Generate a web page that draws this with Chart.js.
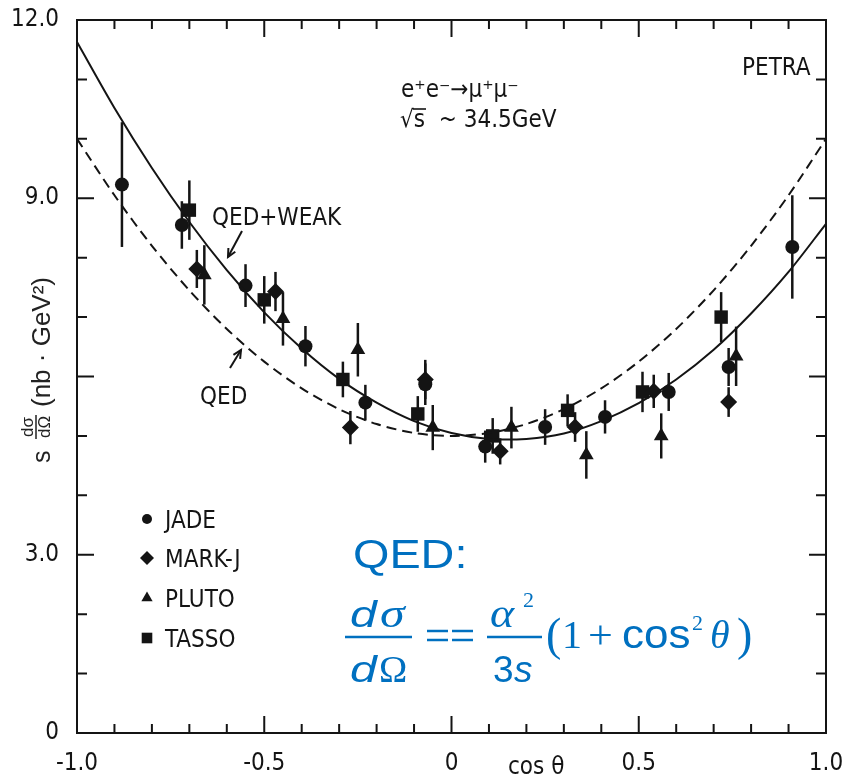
<!DOCTYPE html>
<html>
<head>
<meta charset="utf-8">
<script src="https://cdn.jsdelivr.net/npm/chart.js@4.4.0/dist/chart.umd.min.js"></script>
<style>
html, body { margin: 0; padding: 0; background: #fff; }
</style>
</head>
<body>
<canvas id="grafico-petra" width="864" height="779"></canvas>
<script>
// theory curves at steps of 0.1 in cos(theta)
const cosGrid = [-1.0, -0.9, -0.8, -0.7, -0.6, -0.5, -0.4, -0.3, -0.2, -0.1, 0.0,
                 0.1, 0.2, 0.3, 0.4, 0.5, 0.6, 0.7, 0.8, 0.9, 1.0];
const qedWeak = [11.63, 10.52, 9.51, 8.60, 7.79, 7.08, 6.47, 5.96, 5.56, 5.25, 5.05,
                 4.95, 4.95, 5.04, 5.25, 5.55, 5.95, 6.45, 7.06, 7.76, 8.57];
const qedOnly = [10.0, 9.05, 8.2, 7.45, 6.8, 6.25, 5.8, 5.45, 5.2, 5.05, 5.0,
                 5.05, 5.2, 5.45, 5.8, 6.25, 6.8, 7.45, 8.2, 9.05, 10.0];

// measurements (value and half error bar)
const jadeX   = [-0.88, -0.72, -0.55, -0.39, -0.23, -0.07, 0.09, 0.25, 0.41, 0.58, 0.74, 0.91];
const jadeY   = [9.23, 8.55, 7.53, 6.51, 5.56, 5.87, 4.82, 5.15, 5.32, 5.74, 6.16, 8.18];
const jadeErr = [1.05, 0.40, 0.36, 0.34, 0.30, 0.35, 0.27, 0.30, 0.28, 0.32, 0.32, 0.87];

const markjX   = [-0.68, -0.47, -0.27, -0.07, 0.13, 0.33, 0.54, 0.74];
const markjY   = [7.81, 7.43, 5.14, 5.95, 4.74, 5.15, 5.75, 5.57];
const markjErr = [0.32, 0.33, 0.28, 0.33, 0.22, 0.25, 0.28, 0.25];

const plutoX   = [-0.66, -0.45, -0.25, -0.05, 0.16, 0.36, 0.56, 0.76];
const plutoY   = [7.71, 6.97, 6.45, 5.14, 5.14, 4.68, 5.00, 6.34];
const plutoErr = [0.50, 0.45, 0.45, 0.38, 0.35, 0.40, 0.38, 0.50];

const tassoX   = [-0.70, -0.50, -0.29, -0.09, 0.11, 0.31, 0.51, 0.72];
const tassoY   = [8.80, 7.29, 5.95, 5.37, 5.00, 5.43, 5.74, 7.00];
const tassoErr = [0.50, 0.40, 0.30, 0.30, 0.30, 0.27, 0.34, 0.42];

const xTicks = [-1, -0.5, 0, 0.5, 1];
const xTickLabels = ['-1.0', '-0.5', '0', '0.5', '1.0'];
const yTicks = [0, 3, 6, 9, 12];
const yTickLabels = ['0', '3.0', '', '9.0', '12.0'];

const INK = '#141414';
const BLUE = '#0070c0';
const labelFont = '"DejaVu Sans Condensed", "DejaVu Sans", sans-serif';

function pontos(xs, ys, errs) {
    return xs.map(function(x, i) { return { x: x, y: ys[i], err: errs[i] }; });
}

const experimentos = [
    { label: 'JADE',   style: 'circle',   r: 7,   legR: 5,   data: pontos(jadeX, jadeY, jadeErr) },
    { label: 'MARK-J', style: 'rectRot',  r: 8.5, legR: 7,   data: pontos(markjX, markjY, markjErr) },
    { label: 'PLUTO',  style: 'triangle', r: 8.5, legR: 6.5, data: pontos(plutoX, plutoY, plutoErr) },
    { label: 'TASSO',  style: 'rect',     r: 9.5, legR: 7.5, data: pontos(tassoX, tassoY, tassoErr) }
];

// draw text with a horizontal stretch, at screen position
function texto(ctx, t, x, y, font, sx) {
    ctx.save();
    ctx.translate(x, y);
    ctx.scale(sx || 1, 1);
    ctx.font = font;
    ctx.fillText(t, 0, 0);
    ctx.restore();
}

function linha(ctx, x1, y1, x2, y2) {
    ctx.beginPath();
    ctx.moveTo(x1, y1);
    ctx.lineTo(x2, y2);
    ctx.stroke();
}

function seta(ctx, x1, y1, x2, y2) {
    linha(ctx, x1, y1, x2, y2);
    const ang = Math.atan2(y2 - y1, x2 - x1);
    const h = 9;
    ctx.beginPath();
    ctx.moveTo(x2 - h * Math.cos(ang - 0.45), y2 - h * Math.sin(ang - 0.45));
    ctx.lineTo(x2, y2);
    ctx.lineTo(x2 - h * Math.cos(ang + 0.45), y2 - h * Math.sin(ang + 0.45));
    ctx.stroke();
}

const decoracao = {
    id: 'decoracao',
    beforeDatasetsDraw(chart) {
        // error bars
        const ctx = chart.ctx, x = chart.scales.x, y = chart.scales.y;
        ctx.save();
        ctx.strokeStyle = INK;
        ctx.lineWidth = 2.5;
        experimentos.forEach(function(e) {
            e.data.forEach(function(p) {
                const px = x.getPixelForValue(p.x);
                linha(ctx, px, y.getPixelForValue(p.y - p.err), px, y.getPixelForValue(p.y + p.err));
            });
        });
        ctx.restore();
    },
    afterDraw(chart) {
        const ctx = chart.ctx, a = chart.chartArea;
        const x = chart.scales.x, y = chart.scales.y;
        ctx.save();
        ctx.strokeStyle = INK;
        ctx.fillStyle = INK;
        ctx.lineWidth = 2;
        ctx.strokeRect(a.left, a.top, a.right - a.left, a.bottom - a.top);

        // inward ticks on all four sides
        ctx.beginPath();
        for (let i = -10; i <= 10; i++) {
            const px = x.getPixelForValue(i / 10);
            const len = (i % 5 === 0) ? 17 : 9;
            ctx.moveTo(px, a.bottom); ctx.lineTo(px, a.bottom - len);
            ctx.moveTo(px, a.top); ctx.lineTo(px, a.top + len);
        }
        for (let v = 0; v <= 12; v++) {
            const py = y.getPixelForValue(v);
            const len = (v % 3 === 0) ? 17 : 10;
            ctx.moveTo(a.left, py); ctx.lineTo(a.left + len, py);
            ctx.moveTo(a.right, py); ctx.lineTo(a.right - len, py);
        }
        ctx.stroke();

        // labels inside the frame
        ctx.textBaseline = 'alphabetic';
        const f24 = '24px ' + labelFont;
        texto(ctx, 'PETRA', 742, 75, f24);
        texto(ctx, 'e\u207Ae\u207B\u2192\u03BC\u207A\u03BC\u207B', 401, 97, f24);
        texto(ctx, '\u221A', 400, 127, f24);
        ctx.font = f24;
        const wr = ctx.measureText('\u221A').width;
        const ws = ctx.measureText('s').width;
        ctx.lineWidth = 1.6;
        linha(ctx, 400 + wr - 1, 109, 400 + wr + ws + 1, 109);
        texto(ctx, 's  ~ 34.5GeV', 400 + wr, 127, f24);

        texto(ctx, 'QED+WEAK', 212, 225, f24);
        texto(ctx, 'QED', 200, 404, f24);
        ctx.lineWidth = 2;
        seta(ctx, 242, 231, 228, 257);
        seta(ctx, 230, 368, 241, 350);

        // legend
        const legY = [519, 558, 598, 638];
        experimentos.forEach(function(e, i) {
            Chart.helpers.drawPoint(ctx, { pointStyle: e.style, radius: e.legR, rotation: 0, borderWidth: 0 }, 147, legY[i]);
            texto(ctx, e.label, 165, legY[i] + 9, f24);
        });

        texto(ctx, 'cos \u03B8', 508, 774, f24);

        // y axis title, rotated
        ctx.save();
        ctx.translate(0, 463);
        ctx.rotate(-Math.PI / 2);
        ctx.fillStyle = '#222';
        ctx.font = '25px "Liberation Sans", Arial, sans-serif';
        ctx.fillText('s', 0, 50);
        ctx.font = '17px "Liberation Sans", Arial, sans-serif';
        ctx.fillText('d\u03C3', 26, 33);
        ctx.fillText('d\u03A9', 25, 50);
        ctx.strokeStyle = '#222';
        ctx.lineWidth = 1.5;
        linha(ctx, 24, 36, 48, 36);
        ctx.font = '26px "Liberation Sans", Arial, sans-serif';
        ctx.fillText('(nb \u00B7 GeV\u00B2)', 56, 50);
        ctx.restore();

        // blue QED formula
        ctx.fillStyle = BLUE;
        ctx.strokeStyle = BLUE;
        const sans = '"Liberation Sans", Arial, sans-serif';
        const serif = '"Liberation Serif", "Times New Roman", serif';
        texto(ctx, 'QED:', 353, 568, '40px ' + sans, 1.17);
        texto(ctx, 'd', 350, 627, 'italic 37px ' + sans, 1.3);
        texto(ctx, '\u03C3', 380, 627, 'italic 40px ' + serif, 1.25);
        ctx.lineWidth = 2.5;
        linha(ctx, 345, 637, 412, 637);
        texto(ctx, 'd', 350, 682, 'italic 37px ' + sans, 1.3);
        texto(ctx, '\u03A9', 379, 682, '38px ' + serif, 1.0);
        linha(ctx, 427, 631, 448, 631);
        linha(ctx, 427, 640, 448, 640);
        linha(ctx, 452, 631, 473, 631);
        linha(ctx, 452, 640, 473, 640);
        texto(ctx, '\u03B1', 490, 627, 'italic 40px ' + serif, 1.15);
        texto(ctx, '2', 523, 607, '22px ' + serif, 1.0);
        linha(ctx, 487, 637, 542, 637);
        texto(ctx, '3', 493, 682, '37px ' + sans, 1.0);
        texto(ctx, 's', 514, 682, 'italic 37px ' + sans, 1.0);
        texto(ctx, '(', 546, 650, '46px ' + serif, 1.0);
        texto(ctx, '1', 562, 648, '40px ' + serif, 1.0);
        texto(ctx, '+', 588, 648, '40px ' + serif, 1.1);
        texto(ctx, 'cos', 622, 648, '40px ' + sans, 1.1);
        texto(ctx, '2', 692, 630, '22px ' + serif, 1.0);
        texto(ctx, '\u03B8', 710, 648, 'italic 40px ' + serif, 1.0);
        texto(ctx, ')', 737, 650, '46px ' + serif, 1.0);
        ctx.restore();
    }
};

const ctx = document.getElementById('grafico-petra').getContext('2d');
const grafico = new Chart(ctx, {
    type: 'scatter',
    data: {
        datasets: [{
            type: 'line',
            label: 'QED+WEAK',
            data: cosGrid.map(function(c, i) { return { x: c, y: qedWeak[i] }; }),
            borderColor: INK,
            borderWidth: 2,
            pointRadius: 0,
            tension: 0.3,
            fill: false
        }, {
            type: 'line',
            label: 'QED',
            data: cosGrid.map(function(c, i) { return { x: c, y: qedOnly[i] }; }),
            borderColor: INK,
            borderWidth: 2,
            borderDash: [10, 6],
            pointRadius: 0,
            tension: 0.3,
            fill: false
        }].concat(experimentos.map(function(e) {
            return {
                label: e.label,
                data: e.data,
                pointStyle: e.style,
                pointRadius: e.r,
                pointBorderWidth: 0,
                backgroundColor: INK,
                borderColor: INK
            };
        }))
    },
    options: {
        responsive: false,
        animation: false,
        layout: {
            autoPadding: false,
            padding: { left: 0, top: 20, right: 38, bottom: 0 }
        },
        plugins: {
            legend: { display: false },
            tooltip: { enabled: false }
        },
        scales: {
            x: {
                type: 'linear',
                min: -1,
                max: 1,
                afterFit: function(s) { s.height = 46; s.paddingLeft = 0; s.paddingRight = 0; },
                afterBuildTicks: function(s) { s.ticks = xTicks.map(function(v) { return { value: v }; }); },
                grid: { display: false, drawTicks: false },
                border: { display: false },
                ticks: {
                    padding: 16,
                    maxRotation: 0,
                    autoSkip: false,
                    color: INK,
                    font: { family: labelFont, size: 24 },
                    callback: function(v, i) { return xTickLabels[i]; }
                }
            },
            y: {
                type: 'linear',
                min: 0,
                max: 12,
                afterFit: function(s) { s.width = 77; s.paddingTop = 0; s.paddingBottom = 0; },
                afterBuildTicks: function(s) { s.ticks = yTicks.map(function(v) { return { value: v }; }); },
                grid: { display: false, drawTicks: false },
                border: { display: false },
                ticks: {
                    padding: 18,
                    autoSkip: false,
                    color: INK,
                    font: { family: labelFont, size: 24 },
                    callback: function(v, i) { return yTickLabels[i]; }
                }
            }
        }
    },
    plugins: [decoracao]
});
</script>
</body>
</html>
